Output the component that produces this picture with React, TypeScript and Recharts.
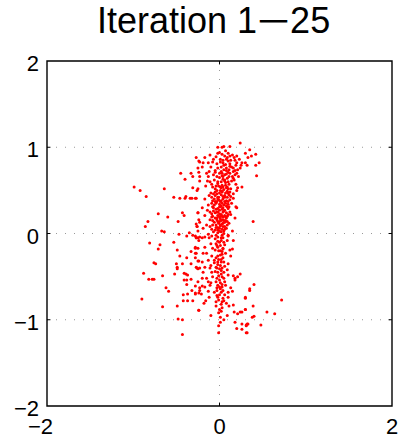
import React from "react";
import { ScatterChart, Scatter, XAxis, YAxis, CartesianGrid, ReferenceArea, ReferenceLine } from "recharts";

const titleHead = "Iteration 1";
const titleDash = "\u2212";
const titleTail = "25";
const xTicks = [-2, 0, 2];
const yTicks = [-2, -1, 0, 1, 2];
const gridX = [0];
const gridY = [-1, 0, 1];

// left sparse cloud (upper half)
const leftUpper: [number, number][] = [
  [-0.99, 0.54], [-0.92, 0.5], [-0.85, 0.43], [-0.64, 0.52], [-0.71, 0.23], [-0.83, 0.14], [-0.86, 0.08],
  [-0.6, 0.19], [-0.48, 0.14], [-0.43, 0.24], [-0.41, 0.21], [-0.53, 0.42], [-0.46, 0.41], [-0.4, 0.41],
  [-0.39, 0.43], [-0.34, 0.41], [-0.32, 0.41], [-0.28, 0.41], [-0.26, 0.5], [-0.31, 0.53], [-0.45, 0.7],
  [-0.4, 0.63], [-0.33, 0.7], [-0.31, 0.66], [-0.27, 0.88], [-0.25, 0.76], [-0.24, 0.84], [-0.23, 0.61],
  [-0.67, 0.03], [-0.64, 0.02], [-0.47, -0.01], [-0.35, 0.01], [-0.38, -0.03], [-0.31, -0.02], [-0.28, -0.03],
  [-0.25, 0.03], [-0.24, 0.16], [-0.27, 0.11], [-0.26, 0.08], [-0.25, 0.24],
];

// left sparse cloud (lower half)
const leftLower: [number, number][] = [
  [-0.81, -0.11], [-0.69, -0.13], [-0.71, -0.18], [-0.53, -0.1], [-0.49, -0.19], [-0.27, -0.05], [-0.25, -0.05],
  [-0.28, -0.16], [-0.33, -0.21], [-0.28, -0.23], [-0.28, -0.28], [-0.38, -0.28], [-0.46, -0.26], [-0.24, -0.32],
  [-0.76, -0.34], [-0.74, -0.35], [-0.5, -0.35], [-0.49, -0.39], [-0.49, -0.41], [-0.43, -0.35], [-0.33, -0.35],
  [-0.27, -0.39], [-0.25, -0.41], [-0.88, -0.46], [-0.52, -0.47], [-0.41, -0.46], [-0.39, -0.47], [-0.37, -0.48],
  [-0.66, -0.49], [-0.33, -0.53], [-0.41, -0.54], [-0.38, -0.54], [-0.82, -0.53], [-0.78, -0.53], [-0.76, -0.53],
  [-0.38, -0.59], [-0.28, -0.61], [-0.62, -0.63], [-0.59, -0.67], [-0.32, -0.66], [-0.23, -0.63], [-0.42, -0.71],
  [-0.37, -0.7], [-0.28, -0.7], [-0.24, -0.69], [-0.9, -0.76], [-0.42, -0.78], [-0.37, -0.78], [-0.31, -0.78],
  [-0.66, -0.85], [-0.49, -0.84], [-0.24, -0.89], [-0.48, -0.99], [-0.43, -1.0], [-0.43, -1.17],
];

// right sparse points
const rightSide: [number, number][] = [
  [0.4, -0.59], [0.35, -0.64], [0.3, -0.74], [0.72, -0.77], [0.39, -0.84], [0.3, -0.88], [0.55, -0.91],
  [0.4, -0.96], [0.38, -0.97], [0.64, -0.93], [0.33, -1.05], [0.31, -1.07], [0.48, -1.06], [0.31, -1.15],
  [0.35, 0.97], [0.42, 0.92], [0.37, 0.9], [0.33, 0.88], [0.3, 0.82], [0.46, 0.82], [0.42, 0.79],
  [0.43, 0.67], [0.39, 0.14], [0.26, 0.54], [0.21, 0.53], [0.19, 0.31],
];

// central column below zero
const columnLower: [number, number][] = [
  [-0.27, -0.05], [-0.24, -0.08], [-0.2, -0.05], [-0.17, -0.04], [-0.12, -0.05], [-0.09, -0.03], [-0.05, -0.06],
  [-0.02, -0.04], [0.02, -0.08], [0.04, -0.05], [0.09, -0.08], [0.1, -0.03], [0.16, -0.08], [-0.28, -0.17],
  [-0.25, -0.17], [-0.17, -0.16], [-0.1, -0.12], [-0.08, -0.17], [-0.05, -0.19], [-0.02, -0.16], [0.01, -0.2],
  [0.04, -0.17], [0.06, -0.13], [0.12, -0.19], [0.15, -0.18], [-0.27, -0.23], [-0.19, -0.23], [-0.15, -0.23],
  [-0.09, -0.26], [-0.04, -0.28], [-0.02, -0.26], [0.02, -0.3], [0.03, -0.24], [0.13, -0.26], [-0.25, -0.32],
  [-0.2, -0.33], [-0.13, -0.31], [-0.1, -0.37], [-0.06, -0.34], [-0.02, -0.33], [0.01, -0.37], [0.05, -0.33],
  [0.1, -0.35], [-0.26, -0.4], [-0.23, -0.4], [-0.17, -0.39], [-0.11, -0.4], [-0.04, -0.39], [0.03, -0.4],
  [0.09, -0.42], [-0.19, -0.45], [-0.09, -0.45], [-0.02, -0.45], [0.02, -0.47], [0.1, -0.48], [-0.2, -0.52],
  [-0.15, -0.52], [-0.08, -0.5], [-0.03, -0.52], [0.05, -0.52], [0.16, -0.49], [0.18, -0.52], [0.24, -0.47],
  [-0.25, -0.56], [-0.13, -0.56], [-0.1, -0.57], [-0.04, -0.56], [0.01, -0.57], [0.06, -0.56], [0.18, -0.54],
  [0.21, -0.5], [-0.2, -0.61], [-0.17, -0.62], [-0.11, -0.6], [-0.03, -0.63], [0.03, -0.62], [0.13, -0.63],
  [-0.23, -0.66], [-0.21, -0.7], [-0.28, -0.69], [-0.13, -0.67], [-0.03, -0.66], [0.02, -0.68], [0.1, -0.68],
  [0.15, -0.67], [-0.12, -0.74], [-0.02, -0.74], [0.04, -0.75], [0.1, -0.74], [0.35, -0.66], [-0.16, -0.78],
  [-0.04, -0.79], [0.03, -0.79], [0.3, -0.75], [-0.18, -0.81], [0.08, -0.81], [0.11, -0.84], [0.16, -0.83],
  [-0.04, -0.84], [-0.24, -0.89], [0.03, -0.86], [0.3, -0.88], [-0.1, -0.95], [0.09, -0.95], [0.17, -0.91],
  [0.21, -0.93], [0.24, -0.91], [0.26, -0.91], [0.01, -1.03], [0.18, -1.03], [0.26, -1.05], [0.31, -1.06],
  [0.32, -1.05], [-0.01, -1.07], [0.2, -1.1], [0.26, -1.11], [-0.01, -1.15], [0.32, -1.15],
  [0.0, -0.1], [-0.03, -0.14], [0.03, -0.21], [0.01, -0.25], [-0.01, -0.3], [0.04, -0.28], [0.0, -0.41],
  [-0.02, -0.36], [0.02, -0.43], [0.05, -0.45], [-0.01, -0.49], [0.0, -0.54], [0.03, -0.59], [-0.02, -0.6],
  [0.01, -0.64], [0.0, -0.71], [-0.01, -0.77], [0.02, -0.82], [0.0, -0.88], [-0.01, -0.92], [0.01, -0.97],
  [0.07, -0.23], [-0.06, -0.31], [0.06, -0.38], [-0.05, -0.44], [0.07, -0.6], [-0.06, -0.68], [0.06, -0.71],
  [0.02, -0.05], [-0.02, -0.09], [0.05, -0.1], [-0.04, -0.12], [0.01, -0.14], [0.04, -0.18], [-0.01, -0.2],
  [0.02, -0.33], [-0.03, -0.4], [0.03, -0.5], [0.0, -0.62], [0.04, -0.66], [-0.03, -0.72], [0.05, -0.78],
  [0.02, -0.9], [0.05, -1.0],
];

// central column above zero
const columnUpper: [number, number][] = [
  [0.24, 1.05], [0.12, 1.01], [0.05, 1.01], [0.03, 1.0], [-0.02, 1.0], [-0.11, 0.91], [-0.02, 0.93],
  [0.03, 0.92], [0.1, 0.93], [0.15, 0.91], [0.3, 0.93], [0.17, 0.88], [0.09, 0.88], [0.01, 0.86],
  [-0.07, 0.86], [-0.17, 0.88], [-0.23, 0.83], [-0.19, 0.82], [-0.13, 0.82], [-0.03, 0.81], [0.04, 0.82],
  [0.12, 0.81], [0.2, 0.82], [0.26, 0.82], [0.32, 0.79], [-0.2, 0.77], [-0.1, 0.77], [-0.02, 0.76],
  [0.08, 0.76], [0.16, 0.76], [0.24, 0.76], [-0.24, 0.71], [-0.15, 0.7], [-0.05, 0.71], [0.03, 0.7],
  [0.1, 0.71], [0.2, 0.7], [-0.23, 0.66], [-0.13, 0.66], [-0.03, 0.66], [0.04, 0.66], [0.15, 0.66],
  [-0.11, 0.6], [-0.02, 0.6], [0.06, 0.61], [0.17, 0.62], [-0.25, 0.52], [-0.08, 0.54], [0.01, 0.54],
  [0.09, 0.54], [-0.05, 0.48], [0.03, 0.48], [0.1, 0.47], [0.2, 0.5], [-0.09, 0.42], [-0.02, 0.42],
  [0.06, 0.42], [0.16, 0.41], [-0.17, 0.4], [-0.27, 0.41], [-0.05, 0.37], [0.03, 0.35], [0.1, 0.37],
  [-0.13, 0.33], [-0.08, 0.31], [0.01, 0.31], [0.09, 0.31], [-0.2, 0.3], [0.2, 0.3], [-0.11, 0.25],
  [-0.03, 0.25], [0.04, 0.25], [0.12, 0.25], [-0.25, 0.24], [-0.17, 0.21], [-0.08, 0.2], [0.01, 0.2],
  [0.09, 0.2], [-0.11, 0.16], [-0.03, 0.16], [0.04, 0.16], [-0.23, 0.13], [0.18, 0.18], [-0.15, 0.1],
  [-0.08, 0.1], [0.01, 0.1], [0.09, 0.1], [-0.26, 0.08], [-0.19, 0.06], [-0.09, 0.05], [-0.02, 0.04],
  [0.06, 0.05], [0.15, 0.03], [-0.13, -0.01], [-0.04, -0.02], [0.03, -0.02], [0.1, -0.02], [-0.23, -0.04],
  [0.02, 0.6], [0.06, 0.62], [0.1, 0.6], [0.16, 0.64], [0.03, 0.67], [0.08, 0.69], [0.11, 0.66],
  [0.18, 0.68], [0.0, 0.7], [0.05, 0.74], [0.11, 0.74], [0.16, 0.72], [0.21, 0.74], [0.02, 0.77],
  [0.07, 0.8], [0.12, 0.78], [0.19, 0.79], [0.25, 0.79], [0.04, 0.85], [0.08, 0.86], [0.13, 0.85],
  [0.18, 0.85], [0.23, 0.86], [0.06, 0.9], [0.12, 0.9], [0.2, 0.9], [-0.04, 0.89], [0.0, 0.94],
  [0.07, 0.96], [-0.08, 0.83], [-0.12, 0.72], [-0.07, 0.68], [-0.09, 0.57], [-0.14, 0.61],
];

// densest core near x = 0
const core: [number, number][] = [
  [-0.02, 0.58], [0.03, 0.56], [0.07, 0.59], [-0.05, 0.52], [0.01, 0.5], [0.05, 0.51], [0.09, 0.49],
  [-0.03, 0.46], [0.02, 0.45], [0.06, 0.44], [0.11, 0.45], [-0.06, 0.4], [-0.01, 0.39], [0.04, 0.4],
  [0.08, 0.38], [0.12, 0.39], [-0.04, 0.35], [0.0, 0.34], [0.05, 0.33], [0.07, 0.35], [-0.07, 0.3],
  [-0.02, 0.29], [0.03, 0.28], [0.06, 0.27], [0.1, 0.29], [-0.05, 0.24], [0.0, 0.23], [0.02, 0.22],
  [0.06, 0.21], [-0.09, 0.19], [-0.03, 0.18], [0.01, 0.17], [0.05, 0.15], [0.08, 0.18], [-0.06, 0.13],
  [-0.01, 0.12], [0.03, 0.11], [0.06, 0.13], [-0.04, 0.07], [0.0, 0.06], [0.04, 0.08], [-0.07, 0.02],
  [-0.02, 0.01], [0.02, 0.02], [0.05, 0.0], [-0.01, 0.42], [0.0, 0.31], [0.01, 0.37], [-0.02, 0.25],
  [0.04, 0.19], [0.0, 0.14], [0.02, 0.53], [-0.04, 0.55], [0.08, 0.53], [0.11, 0.57], [0.13, 0.52],
  [0.14, 0.61], [0.04, 0.63], [0.0, 0.65], [0.09, 0.64], [0.06, 0.68], [-0.06, 0.62], [0.12, 0.7],
  [0.08, 0.73], [0.02, 0.72], [-0.05, 0.73], [0.14, 0.77], [0.05, 0.79], [0.1, 0.84], [0.01, 0.83],
  [0.18, 0.73], [0.22, 0.66], [0.19, 0.57], [0.16, 0.46], [0.14, 0.35], [0.13, 0.22], [0.11, 0.12],
  [-0.1, 0.47], [-0.09, 0.35], [-0.11, 0.08], [-0.14, 0.27], [-0.16, 0.55], [-0.12, 0.44],
  [-0.01, 0.55], [0.04, 0.54], [0.07, 0.56], [0.1, 0.52], [-0.03, 0.5], [0.03, 0.49], [0.07, 0.47],
  [0.0, 0.47], [-0.05, 0.44], [0.04, 0.43], [0.09, 0.42], [-0.02, 0.4], [0.02, 0.38], [0.06, 0.37],
  [-0.03, 0.37], [0.1, 0.34], [-0.06, 0.33], [0.02, 0.32], [0.04, 0.3], [0.08, 0.32], [-0.04, 0.28],
  [0.0, 0.27], [0.05, 0.26], [0.08, 0.24], [-0.07, 0.26], [-0.02, 0.21], [0.03, 0.2], [0.07, 0.19],
  [-0.05, 0.18], [0.0, 0.19], [0.02, 0.15], [-0.02, 0.14], [0.07, 0.15], [-0.08, 0.15], [0.04, 0.12],
  [-0.04, 0.1], [0.01, 0.09], [0.06, 0.08], [-0.02, 0.07], [0.03, 0.05], [-0.05, 0.04], [0.0, 0.03],
  [0.05, 0.03], [-0.09, 0.23], [-0.08, 0.38], [-0.07, 0.46], [0.12, 0.48], [0.13, 0.43], [0.11, 0.31],
  [0.1, 0.22], [0.09, 0.14], [0.08, 0.06],
];

const allPoints = [...leftUpper, ...leftLower, ...rightSide, ...columnLower, ...columnUpper, ...core].map(
  ([x, y]) => ({ x, y })
);

const FONT = "'Liberation Sans', Arial, Helvetica, sans-serif";
const fmt = (v: number) => (v < 0 ? "\u2212" + Math.abs(v) : String(v));

const XTick = (props: any) => {
  const { x, y, payload } = props;
  const v = payload.value;
  return (
    <text x={v < 0 ? x + 6 : x} y={y + 28} textAnchor={v < 0 ? "end" : "middle"} fontSize={22} fontFamily={FONT} fill="#000">
      {fmt(v)}
    </text>
  );
};

const YTick = (props: any) => {
  const { x, y, payload } = props;
  return (
    <text x={x - 8} y={y + 10} textAnchor="end" fontSize={22} fontFamily={FONT} fill="#000">
      {fmt(payload.value)}
    </text>
  );
};

const Dot = (p: any) => <circle cx={p.cx} cy={p.cy} r={1.5} fill="#ff0000" />;

const tickLen = 0.04;

export default function App() {
  return (
    <div style={{ position: "absolute", left: 0, top: 0, width: 402, height: 440, background: "#fff" }}>
      <svg width={402} height={60} style={{ position: "absolute", left: 0, top: 0 }}>
        <text x={97} y={33} textAnchor="start" fontSize={36} fontFamily={FONT} fill="#000">
          <tspan>{titleHead}</tspan>
          <tspan textLength={33} lengthAdjust="spacingAndGlyphs">{titleDash}</tspan>
          <tspan>{titleTail}</tspan>
        </text>
      </svg>
      <div style={{ position: "absolute", left: 0, top: 0 }}>
        <ScatterChart width={402} height={440} margin={{ top: 61, right: 10, bottom: 0, left: 0 }}>
          <CartesianGrid
            stroke="#999"
            strokeDasharray="1 8"
            horizontalValues={gridY}
            verticalValues={gridX}
          />
          <XAxis
            dataKey="x"
            type="number"
            domain={[-2, 2]}
            ticks={xTicks}
            interval={0}
            axisLine={false}
            tickLine={false}
            tickSize={0}
            tickMargin={0}
            height={34}
            tick={<XTick />}
            allowDataOverflow
          />
          <YAxis
            dataKey="y"
            type="number"
            domain={[-2, 2]}
            ticks={yTicks}
            interval={0}
            axisLine={false}
            tickLine={false}
            tickSize={0}
            tickMargin={0}
            width={47}
            tick={<YTick />}
            allowDataOverflow
          />
          <Scatter data={allPoints} isAnimationActive={false} shape={Dot} />
          {xTicks.slice(1, -1).map((t) => (
            <ReferenceLine key={"xb" + t} segment={[{ x: t, y: -2 }, { x: t, y: -2 + tickLen }]} stroke="#000" strokeWidth={1} />
          ))}
          {xTicks.slice(1, -1).map((t) => (
            <ReferenceLine key={"xt" + t} segment={[{ x: t, y: 2 }, { x: t, y: 2 - tickLen }]} stroke="#000" strokeWidth={1} />
          ))}
          {yTicks.slice(1, -1).map((t) => (
            <ReferenceLine key={"yl" + t} segment={[{ x: -2, y: t }, { x: -2 + tickLen, y: t }]} stroke="#000" strokeWidth={1} />
          ))}
          {yTicks.slice(1, -1).map((t) => (
            <ReferenceLine key={"yr" + t} segment={[{ x: 2, y: t }, { x: 2 - tickLen, y: t }]} stroke="#000" strokeWidth={1} />
          ))}
          <ReferenceArea x1={-2} x2={2} y1={-2} y2={2} stroke="#000" strokeWidth={1.4} fill="none" fillOpacity={0} />
        </ScatterChart>
      </div>
    </div>
  );
}
